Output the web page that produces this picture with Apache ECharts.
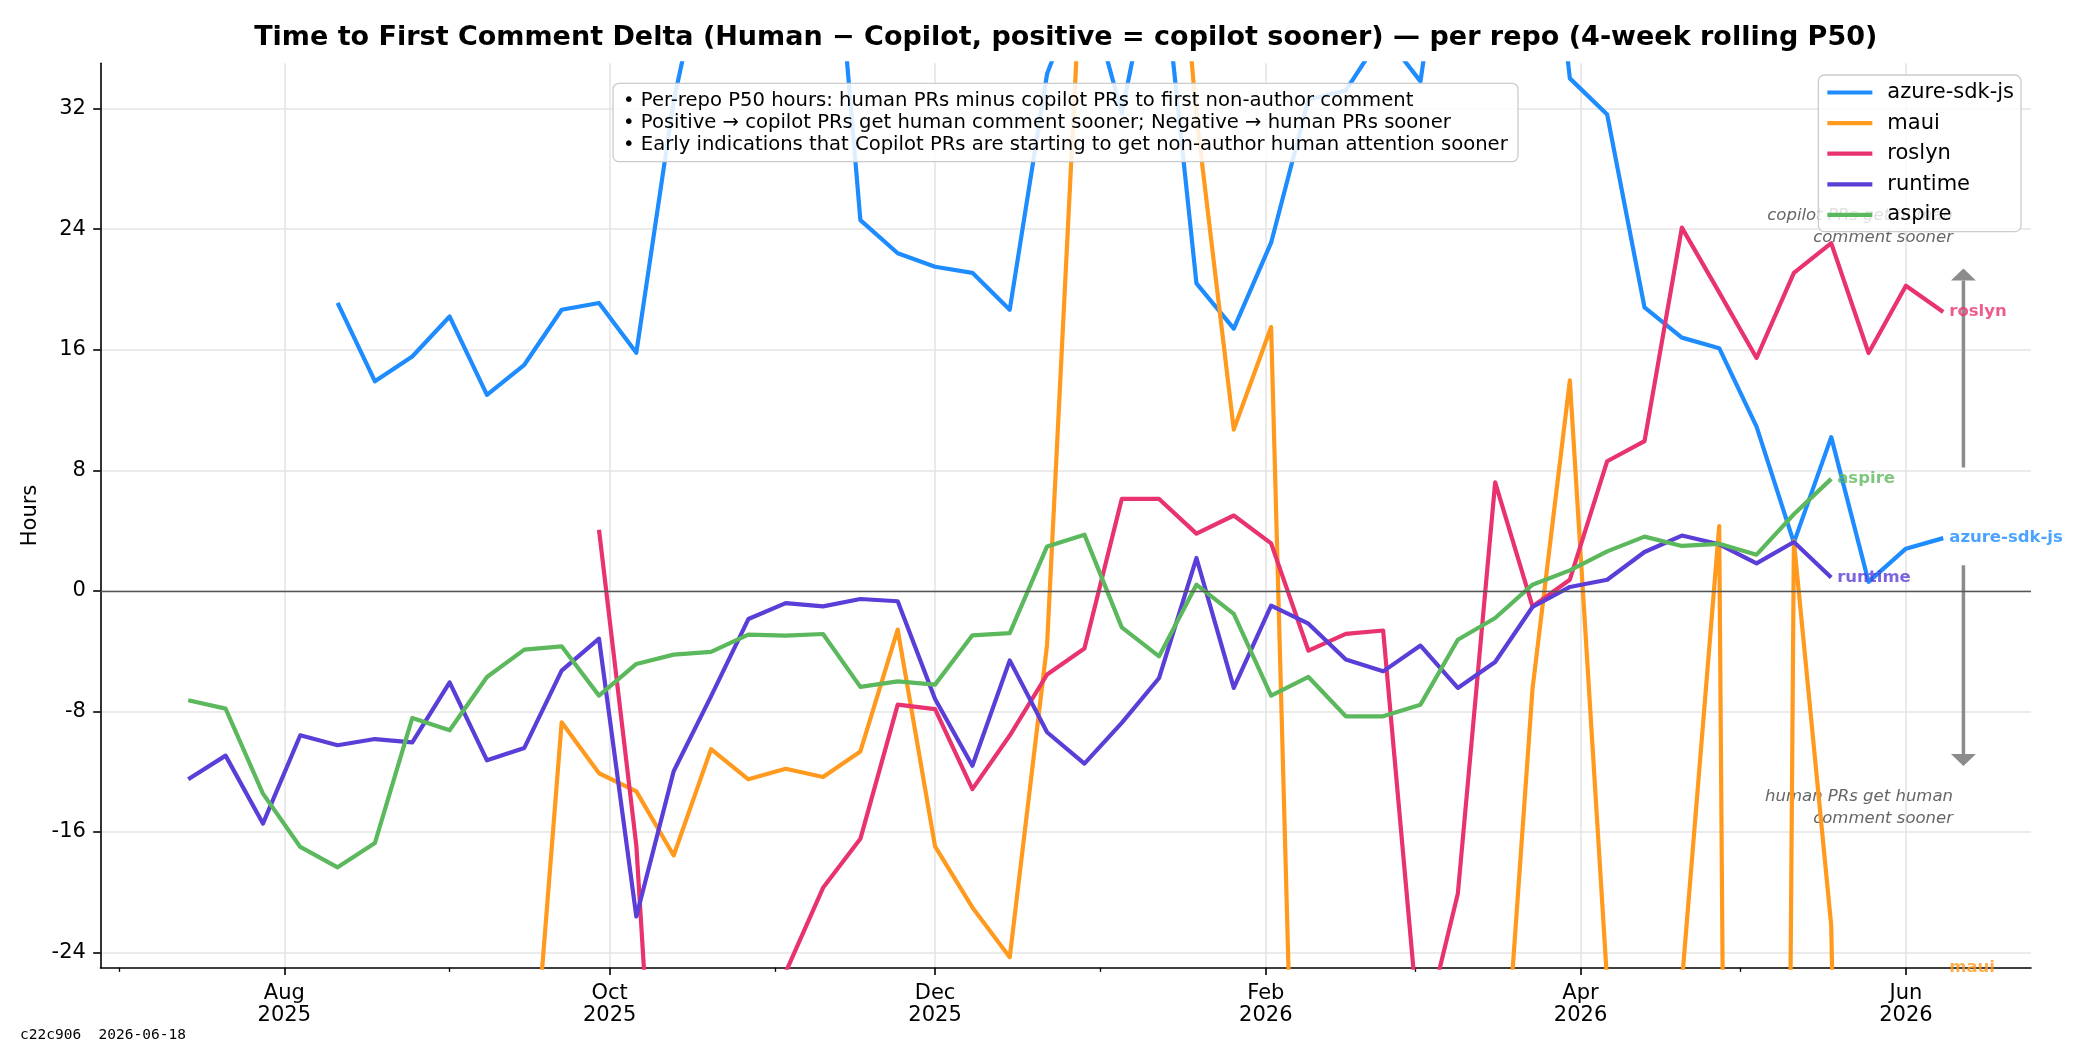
<!DOCTYPE html>
<html><head><meta charset="utf-8">
<script src="https://cdn.jsdelivr.net/npm/echarts@6/dist/echarts.min.js"></script>
<style>html,body{margin:0;padding:0;background:#fff}#c{width:2100px;height:1050px}</style>
</head><body><div id="c"></div>
<script>
// ---------------- DATA ----------------
const weeks = ['2025-07-14','2025-07-21','2025-07-28','2025-08-04','2025-08-11','2025-08-18','2025-08-25',
  '2025-09-01','2025-09-08','2025-09-15','2025-09-22','2025-09-29','2025-10-06','2025-10-13','2025-10-20','2025-10-27',
  '2025-11-03','2025-11-10','2025-11-17','2025-11-24','2025-12-01','2025-12-08','2025-12-15','2025-12-22','2025-12-29',
  '2026-01-05','2026-01-12','2026-01-19','2026-01-26','2026-02-02','2026-02-09','2026-02-16','2026-02-23',
  '2026-03-02','2026-03-09','2026-03-16','2026-03-23','2026-03-30','2026-04-06','2026-04-13','2026-04-20','2026-04-27',
  '2026-05-04','2026-05-11','2026-05-18','2026-05-25','2026-06-01','2026-06-08'];

const azureSdkJs = [null,null,null,null,19.1,13.9,15.55,18.2,13.0,15.0,18.65,19.1,15.8,32.5,44,58,60,54,24.6,22.4,
  21.5,21.1,18.65,34.3,40.8,31.7,44,20.4,17.4,23.1,32.6,33.2,37,33.8,51,55,56,34.0,31.6,18.8,16.8,16.1,10.9,3.2,10.2,0.6,2.8,3.5];
const maui = [null,null,null,null,null,null,null,null,null,-40,-8.72,-12.1,-13.3,-17.56,-10.5,-12.5,-11.8,-12.35,-10.65,-2.57,
  -16.95,-21.0,-24.3,-3.57,46,70,60,31.5,10.7,17.5,-74,-70,-62,-55,-48,-41.5,-6.5,13.96,-26,-45,-26,4.3,-318,3.3,-22.2,-150,-180,-150];
const roslyn = [null,null,null,null,null,null,null,null,null,null,null,4.05,-16.9,-57,-50,-38,-25.3,-19.7,-16.45,-7.55,
  -7.85,-13.15,-9.6,-5.55,-3.83,6.1,6.1,3.8,5.0,3.15,-3.97,-2.85,-2.63,-30.3,-20.1,7.2,-1.03,0.74,8.6,9.93,24.1,19.8,15.45,21.1,23.07,15.78,20.24,18.5];
const runtime = [-12.5,-10.93,-15.44,-9.58,-10.24,-9.83,-10.05,-6.07,-11.24,-10.42,-5.29,-3.17,-21.6,-11.97,-7.0,-1.87,-0.81,-1.03,-0.54,-0.69,
  -7.17,-11.6,-4.61,-9.38,-11.46,-8.76,-5.78,2.18,-6.44,-0.98,-2.18,-4.56,-5.34,-3.63,-6.44,-4.72,-1.07,0.26,0.74,2.58,3.67,3.09,1.82,3.24,0.88,null,null,null];
const aspire = [-7.26,-7.81,-13.45,-16.99,-18.34,-16.72,-8.43,-9.25,-5.71,-3.9,-3.68,-6.95,-4.85,-4.23,-4.05,-2.9,-2.97,-2.86,-6.37,-6.0,
  -6.22,-2.95,-2.8,2.95,3.73,-2.42,-4.34,0.41,-1.53,-6.95,-5.71,-8.32,-8.32,-7.55,-3.24,-1.8,0.41,1.36,2.62,3.6,2.98,3.12,2.4,5.08,7.43,null,null,null];

const seriesNames = ['azure-sdk-js','maui','roslyn','runtime','aspire'];
const yTicks = [-24,-16,-8,0,8,16,24,32];
const xMajorTicks = ['2025-08-01','2025-10-01','2025-12-01','2026-02-01','2026-04-01','2026-06-01'];
const xMinorTicks = ['2025-07-01','2025-09-01','2025-11-01','2026-01-01','2026-03-01','2026-05-01'];
const monthNames = ['Jan','Feb','Mar','Apr','May','Jun','Jul','Aug','Sep','Oct','Nov','Dec'];
const noteLines = [
  '• Per-repo P50 hours: human PRs minus copilot PRs to first non-author comment',
  '• Positive → copilot PRs get human comment sooner; Negative → human PRs sooner',
  '• Early indications that Copilot PRs are starting to get non-author human attention sooner'
];
const titleText = 'Time to First Comment Delta (Human − Copilot, positive = copilot sooner) — per repo (4-week rolling P50)';
const upText = 'copilot PRs get human\ncomment sooner';
const downText = 'human PRs get human\ncomment sooner';
const footerText = 'c22c906  2026-06-18';

// ---------------- STYLE / LAYOUT ----------------
const FONT = 'DejaVu Sans';
const colors = ['#1E8CFF','#FF9A1F','#E8336E','#5B3DD8','#5CB85C'];
const Y_MIN = -25, Y_MAX = 35;
const G = {left: 100.5, top: 63.3, right: 69, bottom: 82.3};
const GW = 2100 - G.left - G.right, GH = 1050 - G.top - G.bottom;

function toTs(s){ const [y,m,d] = s.split('-').map(Number); return Date.UTC(y, m-1, d); }
const t0 = toTs(weeks[0]), t1 = toTs(weeks[weeks.length-1]);
const xMin = t0 - 0.05*(t1-t0), xMax = t1 + 0.05*(t1-t0);
const valuesList = [azureSdkJs, maui, roslyn, runtime, aspire];

const lineSeries = seriesNames.map((name, k) => ({
  name, type: 'line', xAxisIndex: 0, yAxisIndex: 0, symbol: 'none', showSymbol: false, clip: true,
  data: weeks.map((w, i) => [toTs(w), valuesList[k][i]]).filter(p => p[1] !== null),
  lineStyle: {color: colors[k], width: 4.2, join: 'round'},
  itemStyle: {color: colors[k]},
  emphasis: {disabled: true}, silent: true
}));
lineSeries[0].markLine = {
  silent: true, symbol: ['none','none'], animation: false,
  label: {show: false},
  lineStyle: {color: '#555', width: 1.4, type: 'solid'},
  data: [{yAxis: 0}]
};

const endLabelData = seriesNames.map((name, k) => {
  const vals = valuesList[k];
  let li = vals.length - 1; while (vals[li] === null) li--;
  const v = Math.max(Y_MIN, Math.min(Y_MAX, vals[li]));
  return {name, value: [toTs(weeks[li]), v], label: {color: colors[k]}};
});

const chart = echarts.init(document.getElementById('c'), null, {renderer: 'canvas'});

function fx(f){ return G.left + f*GW; }
function fy(f){ return G.top + (1-f)*GH; }
const arrowX = fx(0.965);
function arrow(yFrom, yTo){
  const dir = yTo < yFrom ? 1 : -1;
  const headL = 12, headW = 12.5;
  const baseY = yTo + dir*headL;
  return [
    {type: 'line', z: 3, shape: {x1: arrowX, y1: yFrom, x2: arrowX, y2: baseY}, style: {stroke: '#8c8c8c', lineWidth: 3.5}},
    {type: 'polygon', z: 3, shape: {points: [[arrowX-headW, baseY],[arrowX+headW, baseY],[arrowX, yTo]]}, style: {fill: '#8c8c8c'}}
  ];
}
function monthLabel(v){ const d = new Date(v); return monthNames[d.getUTCMonth()] + '\n' + d.getUTCFullYear(); }

const option = {
  animation: false,
  backgroundColor: '#ffffff',
  grid: {left: G.left, top: G.top, right: G.right, bottom: G.bottom, containLabel: false},
  legend: {
    data: seriesNames, orient: 'vertical', right: 79, top: 75,
    padding: [5.5, 7, 4.7, 9], itemWidth: 45, itemHeight: 4.2, itemGap: 6.6, icon: 'rect',
    textStyle: {fontFamily: FONT, fontSize: 21, color: '#000', lineHeight: 24, padding: [0,0,0,10]},
    backgroundColor: 'rgba(255,255,255,0.8)', borderColor: '#cccccc', borderWidth: 1.3, borderRadius: 6,
    z: 10, selectedMode: false
  },
  xAxis: [{
    type: 'value', min: xMin, max: xMax, gridIndex: 0, position: 'bottom', scale: true,
    axisLine: {show: true, onZero: false, lineStyle: {color: '#000', width: 1.6}},
    axisTick: {show: true, length: 7.3, lineStyle: {color: '#000', width: 1.6}, customValues: xMajorTicks.map(toTs)},
    axisLabel: {show: true, customValues: xMajorTicks.map(toTs), formatter: monthLabel,
      fontFamily: FONT, fontSize: 21, color: '#000', lineHeight: 22, margin: 15, hideOverlap: false,
      showMinLabel: true, showMaxLabel: true},
    splitLine: {show: true, lineStyle: {color: '#e5e5e5', width: 1.6}}
  }, {
    type: 'value', min: xMin, max: xMax, gridIndex: 0, position: 'bottom', scale: true,
    axisLine: {show: false, onZero: false},
    axisTick: {show: true, length: 4.2, lineStyle: {color: '#000', width: 1.3}, customValues: xMinorTicks.map(toTs)},
    axisLabel: {show: false}, splitLine: {show: false}
  }],
  yAxis: {
    type: 'value', min: Y_MIN, max: Y_MAX,
    name: 'Hours', nameLocation: 'middle', nameGap: 40, nameRotate: 90,
    nameTextStyle: {fontFamily: FONT, fontSize: 21, color: '#000'},
    axisLine: {show: true, onZero: false, lineStyle: {color: '#000', width: 1.6}},
    axisTick: {show: true, length: 7.3, customValues: yTicks, lineStyle: {color: '#000', width: 1.6}},
    axisLabel: {customValues: yTicks, formatter: v => String(v),
      fontFamily: FONT, fontSize: 21, color: '#000', margin: 14.6},
    splitLine: {show: true, lineStyle: {color: '#e5e5e5', width: 1.6}}
  },
  series: lineSeries.concat([{
    name: 'endLabels', type: 'scatter', xAxisIndex: 0, yAxisIndex: 0, clip: false, silent: true,
    symbolSize: 0, itemStyle: {color: 'transparent'}, z: 5,
    label: {show: true, position: 'right', distance: 6, formatter: p => p.name,
      fontFamily: FONT, fontWeight: 'bold', fontSize: 16.5},
    data: endLabelData
  }]),
  graphic: [
    {type: 'text', z: 50, x: G.left + GW/2, y: 38,
      style: {text: titleText, align: 'center', verticalAlign: 'middle', fontFamily: FONT, fontWeight: 'bold', fontSize: 27, fill: '#000'}},
    {type: 'text', z: 50, x: 20, y: 1035,
      style: {text: footerText, align: 'left', verticalAlign: 'middle', fontFamily: 'DejaVu Sans Mono', fontSize: 14.5, fill: '#000'}},
    {type: 'group', z: 20, x: 613, y: 83.3, children: [
      {type: 'rect', z: 20, shape: {x: 0, y: 0, width: 905, height: 78.4, r: 6},
        style: {fill: 'rgba(255,255,255,0.85)', stroke: '#cccccc', lineWidth: 1.3}},
      {type: 'text', z: 21, x: 10, y: 6.5,
        style: {text: noteLines.join('\n'), align: 'left', verticalAlign: 'top', lineHeight: 21.9, fontFamily: FONT, fontSize: 19.6, fill: '#000'}}
    ]},
    {type: 'text', z: 3, x: fx(0.9596), y: 226.5,
      style: {text: upText, align: 'right', verticalAlign: 'middle', lineHeight: 21.7, fontFamily: FONT, fontStyle: 'italic', fontSize: 16.5, fill: '#666666'}},
    {type: 'text', z: 3, x: fx(0.9596), y: 808,
      style: {text: downText, align: 'right', verticalAlign: 'middle', lineHeight: 21.7, fontFamily: FONT, fontStyle: 'italic', fontSize: 16.5, fill: '#666666'}}
  ].concat(arrow(fy(0.553), fy(0.773))).concat(arrow(fy(0.445), fy(0.223)))
};
chart.setOption(option);
</script>
</body></html>
